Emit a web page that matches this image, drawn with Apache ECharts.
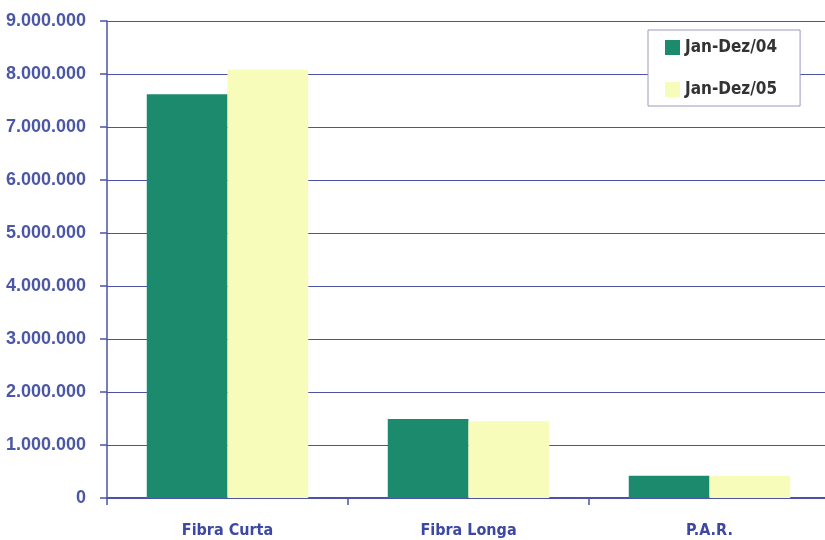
<!DOCTYPE html>
<html><head><meta charset="utf-8">
<script src="https://cdn.jsdelivr.net/npm/echarts@6/dist/echarts.min.js"></script>
<style>html,body{margin:0;padding:0;background:#fff;overflow:hidden;width:825px;height:540px}#c{width:850px;height:540px}</style>
</head><body><div id="c"></div>
<script>
var categories = ['Fibra Curta', 'Fibra Longa', 'P.A.R.'];
var seriesNames = ['Jan-Dez/04', 'Jan-Dez/05'];
var values04 = [7620000, 1490000, 420000];
var values05 = [8080000, 1450000, 415000];

var axisBlue = '#4b52a8';
var condensed = '"DejaVu Sans Condensed", "Liberation Sans", sans-serif';
var chart = echarts.init(document.getElementById('c'), null, {renderer: 'canvas'});
chart.setOption({
  animation: false,
  backgroundColor: '#ffffff',
  grid: {left: 107, top: 21, width: 723, height: 477, containLabel: false},
  legend: {
    orient: 'vertical', left: 648, top: 30,
    data: seriesNames,
    backgroundColor: '#ffffff', borderColor: '#9a98c0', borderWidth: 1,
    padding: [9, 23, 8, 17],
    icon: 'rect', itemWidth: 15, itemHeight: 15, itemGap: 25,
    textStyle: {fontFamily: condensed, fontWeight: 'bold', fontSize: 17, color: '#333333'}
  },
  xAxis: {
    type: 'category', data: categories,
    axisLine: {lineStyle: {color: axisBlue, width: 2}},
    axisTick: {show: true, length: 7, lineStyle: {color: axisBlue, width: 1.5}},
    axisLabel: {margin: 25, fontFamily: condensed, fontWeight: 'bold', fontSize: 16, color: '#3c48a4'}
  },
  yAxis: {
    type: 'value', min: 0, max: 9000000, interval: 1000000,
    axisLine: {show: true, lineStyle: {color: axisBlue, width: 1.5}},
    axisTick: {show: true, length: 7, lineStyle: {color: axisBlue, width: 1.5}},
    splitLine: {lineStyle: {color: axisBlue, width: 1.2}},
    axisLabel: {
      margin: 21, fontFamily: 'Liberation Sans', fontWeight: 'bold', fontSize: 18, color: '#4a56a6',
      formatter: function (v) { return v === 0 ? '0' : String(v).replace(/\B(?=(\d{3})+(?!\d))/g, '.'); }
    }
  },
  series: [
    {name: seriesNames[0], type: 'bar', data: values04, barGap: '0%', barCategoryGap: '33%',
     itemStyle: {color: '#1c8a6c'}},
    {name: seriesNames[1], type: 'bar', data: values05, barGap: '0%', barCategoryGap: '33%',
     itemStyle: {color: '#f8fcba'}}
  ]
});
</script></body></html>
